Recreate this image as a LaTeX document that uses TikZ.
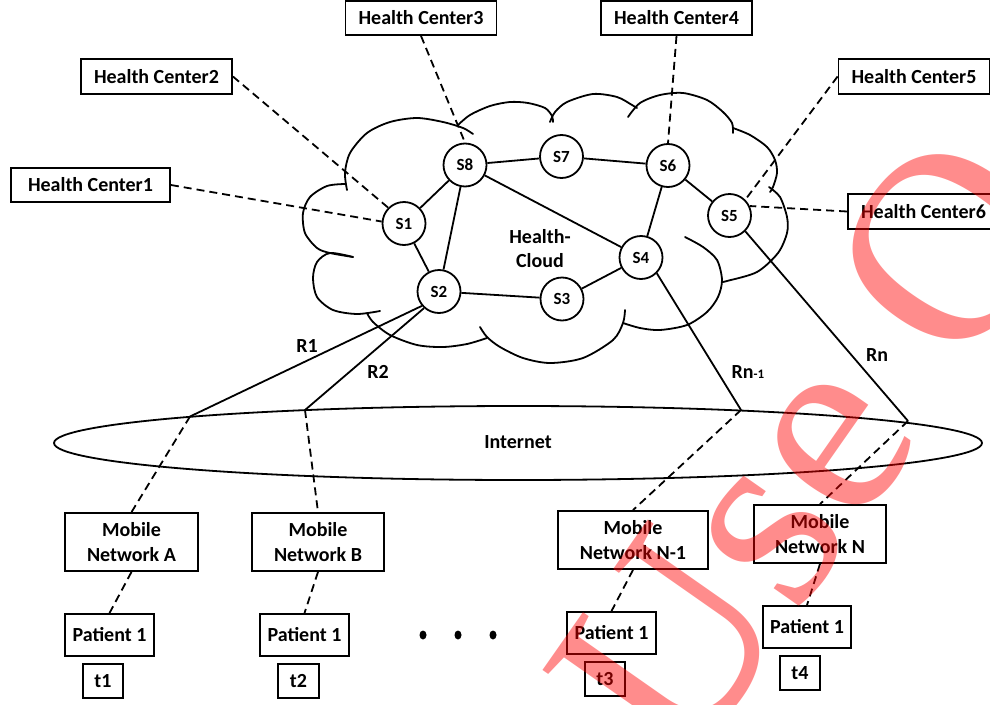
\documentclass[tikz,border=0pt]{standalone}
\usepackage{fontspec}
\setmainfont{Carlito}
\newfontfamily\wmfont{Liberation Serif}
\begin{document}
\begin{tikzpicture}[x=1pt,y=-1pt,
  ln/.style={line width=1.8pt},
  dsh/.style={line width=1.8pt, dash pattern=on 8pt off 5pt},
  cl/.style={line width=1.8pt, line cap=round},
  box/.style={draw, line width=1.8pt, inner sep=0pt, font=\bfseries\fontsize{20}{25}\selectfont, align=center},
  srv/.style={draw, circle, line width=1.8pt, minimum size=43pt, inner sep=0pt, font=\bfseries\fontsize{17}{17}\selectfont},
  lbl/.style={font=\bfseries\fontsize{20}{24}\selectfont, inner sep=0pt, align=center},
  dot/.style={fill=black}]
\useasboundingbox (0,0) rectangle (990,704);
\clip (0,0) rectangle (990,704);

% cloud
\draw[cl] plot[smooth] coordinates {(347,190) (345,173) (350,153) (367,133) (390,122) (417,118) (443,122) (463,128) (473,134)};
\draw[cl] plot[smooth] coordinates {(458,125) (470,115) (490,106) (510,102) (528,103) (545,108) (552,116) (553,122)};
\draw[cl] plot[smooth] coordinates {(550,122) (555,112) (567,102) (593,94) (617,97) (632,105) (637,108)};
\draw[cl] plot[smooth] coordinates {(628,117) (640,103) (660,95) (683,93) (707,100) (723,112) (732,123) (733,133)};
\draw[cl] plot[smooth] coordinates {(733,128) (750,135) (767,147) (775,160) (777,173) (773,187) (770,192)};
\draw[cl] plot[smooth] coordinates {(769,187) (780,197) (787,217) (787,233) (778,253) (757,272) (727,281) (722,282)};
\draw[cl] plot[smooth] coordinates {(685,237) (703,247) (717,260) (722,280) (718,297) (707,312) (687,325) (660,330) (640,328) (623,323)};
\draw[cl] plot[smooth] coordinates {(625,310) (623,323) (613,340) (583,358) (550,363) (523,358) (500,347) (487,337) (480,327)};
\draw[cl] plot[smooth] coordinates {(367,313) (373,322) (390,335) (417,345) (443,347) (467,344) (487,338)};
\draw[cl] plot[smooth] coordinates {(353,257) (330,253) (317,262) (313,278) (317,297) (333,310) (357,314) (380,311)};
\draw[cl] plot[smooth] coordinates {(345,184) (327,186) (310,197) (303,213) (305,233) (317,248) (330,253) (353,257)};

% servers
\node[srv] (S1) at (404,223.5) {S1};
\node[srv] (S8) at (465,165) {S8};
\node[srv] (S7) at (561.5,156.5) {S7};
\node[srv] (S6) at (668,165.5) {S6};
\node[srv] (S5) at (729.5,215.5) {S5};
\node[srv] (S4) at (641,257.5) {S4};
\node[srv] (S3) at (562,299) {S3};
\node[srv] (S2) at (439,291.5) {S2};
\node[lbl] (hcl) at (540,249) {Health-\\Cloud};

\draw[ln] (S1) -- (S8);
\draw[ln] (S1) -- (S2);
\draw[ln] (S8) -- (S2);
\draw[ln] (S8) -- (S7);
\draw[ln] (S7) -- (S6);
\draw[ln] (S8) -- (S4);
\draw[ln] (S6) -- (S4);
\draw[ln] (S6) -- (S5);
\draw[ln] (S2) -- (S3);
\draw[ln] (S3) -- (S4);

% health centers
\node[box, minimum width=159pt, minimum height=34pt] (hc1) at (90.5,185) {Health Center1};
\node[box, minimum width=151pt, minimum height=35pt] (hc2) at (156.5,76.5) {Health Center2};
\node[box, minimum width=151pt, minimum height=34pt] (hc3) at (421,18) {Health Center3};
\node[box, minimum width=151pt, minimum height=34pt] (hc4) at (676.5,18) {Health Center4};
\node[box, minimum width=151pt, minimum height=35pt] (hc5) at (914,76.5) {Health Center5};
\node[box, minimum width=151pt, minimum height=35pt] (hc6) at (923.5,211.5) {Health Center6};

\draw[dsh] (hc1.east) -- (S1.175);
\draw[dsh] (hc2.east) -- (S1.135);
\draw[dsh] (hc3.south) -- (S8.north);
\draw[dsh] (hc4.south) -- (S6.north);
\draw[dsh] (hc5.west) -- (S5.45);
\draw[dsh] (hc6.west) -- (S5.25);

% internet
\draw[ln] (518,443) ellipse [x radius=464pt, y radius=37pt];
\node[lbl] (inet) at (518,442) {Internet};
\coordinate (j1) at (190,416.5);
\coordinate (j2) at (305,410);
\coordinate (j3) at (741,410);
\coordinate (j4) at (908,421);

\draw[ln] (S2.220) -- (j1);
\draw[ln] (S2.228) -- (j2);
\draw[ln] (S4.-45) -- (j3);
\draw[ln] (S5.-45) -- (j4);
\node[lbl] (r1) at (307,346) {R1};
\node[lbl] (r2) at (378,372) {R2};
\node[lbl] (rn1) at (748,372) {Rn\fontsize{13}{13}\selectfont-1};
\node[lbl] (rn) at (877,355) {Rn};

% mobile networks
\node[box, minimum width=133pt, minimum height=58pt] (ma) at (131.5,542) {Mobile\\Network A};
\node[box, minimum width=132pt, minimum height=58pt] (mb) at (318,542) {Mobile\\Network B};
\node[box, minimum width=150pt, minimum height=58pt] (mn1) at (633,540) {Mobile\\Network N-1};
\node[box, minimum width=132pt, minimum height=58pt] (mn) at (820,534) {Mobile\\Network N};

\node[box, minimum width=89pt, minimum height=42pt] (pa) at (109.5,635) {Patient 1};
\node[box, minimum width=89pt, minimum height=42pt] (pb) at (304.5,635) {Patient 1};
\node[box, minimum width=89pt, minimum height=42pt] (pn1) at (611.5,633) {Patient 1};
\node[box, minimum width=88pt, minimum height=42pt] (pn) at (807,627) {Patient 1};

\node[box, minimum width=40pt, minimum height=34pt] (t1) at (103,681) {t1};
\node[box, minimum width=41pt, minimum height=34pt] (t2) at (298.5,681) {t2};
\node[box, minimum width=40pt, minimum height=34pt] (t3) at (605,679) {t3};
\node[box, minimum width=40pt, minimum height=34pt] (t4) at (800,673) {t4};

\draw[dsh] (j1) -- (ma.north);
\draw[dsh] (j2) -- (mb.north);
\draw[dsh] (j3) -- (mn1.north);
\draw[dsh] (j4) -- (mn.north);
\draw[dsh] (ma.south) -- (pa.north);
\draw[dsh] (mb.south) -- (pb.north);
\draw[dsh] (mn1.south) -- (pn1.north);
\draw[dsh] (mn.south) -- (pn.north);

\fill[dot] (423,635) ellipse [x radius=3.5pt, y radius=4.5pt];
\fill[dot] (458,635) ellipse [x radius=3.5pt, y radius=4.5pt];
\fill[dot] (493,635) ellipse [x radius=3.5pt, y radius=4.5pt];

% watermark
\node[anchor=base west, rotate=55, text=red, text opacity=0.45, inner sep=0pt,
  font=\wmfont\fontsize{270}{270}\selectfont] (wm) at (684,777) {Use O};
\end{tikzpicture}
\end{document}
